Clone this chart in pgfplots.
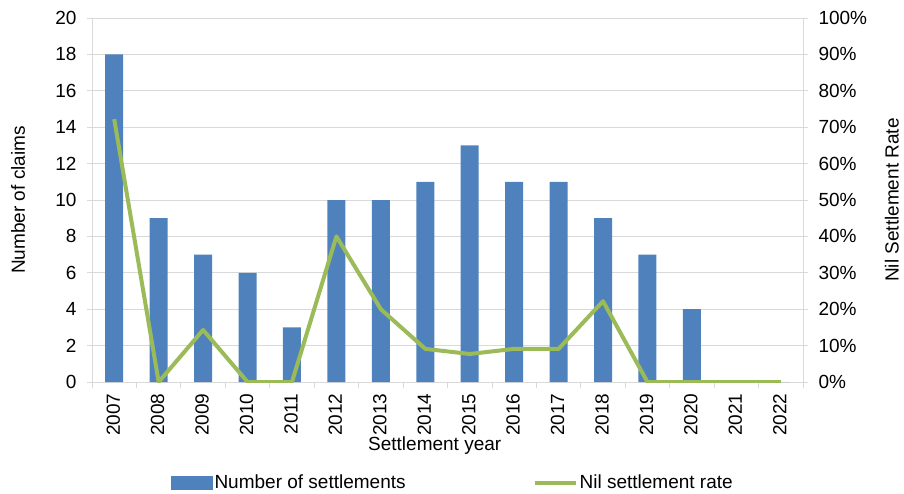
\documentclass[border=0pt]{standalone}
\usepackage{fontspec}
\setmainfont{Liberation Sans}
\usepackage{pgfplots}
\pgfplotsset{compat=1.18}
\definecolor{barblue}{HTML}{4F81BD}
\definecolor{linegreen}{HTML}{9BBB59}
\definecolor{gridgray}{HTML}{D9D9D9}
\newcommand{\chf}{\fontsize{19}{22}\selectfont}
\begin{document}
\begin{tikzpicture}[font=\chf]
\path[use as bounding box] (-92pt,-111pt) rectangle (812pt,382pt);
\begin{axis}[
  at={(0pt,0pt)}, anchor=south west,
  scale only axis, width=711pt, height=364pt,
  /pgf/number format/assume math mode=true,
  xmin=-0.5, xmax=15.5, ymin=0, ymax=20,
  ytick={0,2,...,20},
  xtick={0,...,15},
  xticklabels={2007,2008,2009,2010,2011,2012,2013,2014,2015,2016,2017,2018,2019,2020,2021,2022},
  minor xtick={-0.5,0.5,...,15.5},
  x tick label style={rotate=90, anchor=east, xshift=-3pt, yshift=1pt},
  y tick label style={xshift=-7pt},
  tick align=outside, tick pos=left,
  major tick length=5pt, minor tick length=6pt,
  major x tick style={draw=none},
  every tick/.style={gridgray, line width=0.8pt},
  axis line style={gridgray, line width=0.8pt},
  ymajorgrids, grid style={gridgray, line width=0.8pt},
  ylabel={Number of claims},
  ylabel style={at={(axis description cs:-0.104,0.5)}, anchor=center},
  xlabel={Settlement year},
  xlabel style={at={(axis description cs:0.482,-0.176)}, anchor=center},
  tick label style={font=\chf},
  label style={font=\chf},
]
\addplot[ybar, bar width=18pt, fill=barblue, draw=none] coordinates {
(0,18) (1,9) (2,7) (3,6) (4,3) (5,10) (6,10) (7,11) (8,13) (9,11) (10,11) (11,9) (12,7) (13,4) (14,0) (15,0)};
\end{axis}
\begin{axis}[
  at={(0pt,0pt)}, anchor=south west,
  scale only axis, width=711pt, height=364pt,
  /pgf/number format/assume math mode=true,
  xmin=-0.5, xmax=15.5, ymin=0, ymax=100,
  axis x line=none, axis y line*=right,
  ytick={0,10,...,100},
  yticklabel={\pgfmathprintnumber{\tick}\%},
  y tick label style={xshift=7pt},
  tick align=outside,
  major tick length=5pt,
  every tick/.style={gridgray, line width=0.8pt},
  axis line style={gridgray, line width=0.8pt},
  ylabel={Nil Settlement Rate},
  ylabel style={at={(axis description cs:1.125,0.5)}, anchor=center, rotate=0},
  tick label style={font=\chf},
  label style={font=\chf},
  legend columns=2,
  legend style={at={(axis description cs:0.111,-0.277)}, anchor=west, draw=none, fill=none,
    font=\chf, inner sep=0pt,
    /tikz/every even column/.append style={column sep=125pt}},
]
\addlegendimage{legend image code/.code={\fill[barblue] (0pt,-6pt) rectangle (41pt,7pt);}}
\addlegendentry{Number of settlements}
\addlegendimage{legend image code/.code={\draw[linegreen, line width=4pt] (0pt,0pt) -- (41pt,0pt);}}
\addlegendentry{Nil settlement rate}
\addplot[linegreen, line width=4pt, line join=round, forget plot] coordinates {
(0,72.2) (1,0) (2,14.3) (3,0) (4,0) (5,40) (6,20) (7,9.1) (8,7.7) (9,9.1) (10,9.1) (11,22.2) (12,0) (13,0) (14,0) (15,0)};
\end{axis}
\end{tikzpicture}
\end{document}
